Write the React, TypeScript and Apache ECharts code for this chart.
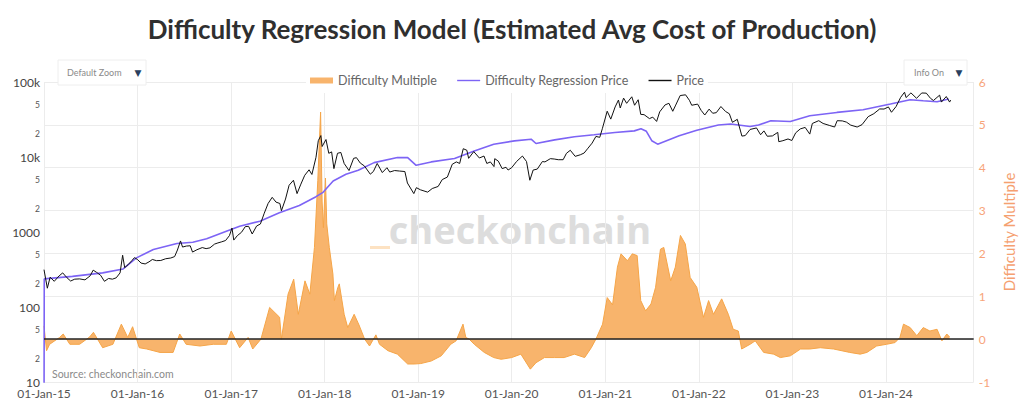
import React, { useEffect, useRef } from 'react';
import * as echarts from 'echarts';

const titleText = 'Difficulty Regression Model (Estimated Avg Cost of Production)';
const seriesNames = ['Difficulty Multiple', 'Difficulty Regression Price', 'Price'];
const leftTickValues = [10, 20, 50, 100, 200, 500, 1000, 2000, 5000, 10000, 20000, 50000, 100000];
const leftTickLabels = ['10', '2', '5', '100', '2', '5', '1000', '2', '5', '10k', '2', '5', '100k'];
const rightMin = -1;
const rightMax = 6;
const xStart = '2015-01-01';
const xEnd = '2024-12-09';
const monthNames = ['Jan', 'Feb', 'Mar', 'Apr', 'May', 'Jun', 'Jul', 'Aug', 'Sep', 'Oct', 'Nov', 'Dec'];

const price: [string, number][] = [
  ['2015-01-01', 315], ['2015-01-14', 178], ['2015-01-25', 250], ['2015-02-10', 220], ['2015-03-01', 260],
  ['2015-03-15', 285], ['2015-04-01', 245], ['2015-04-15', 222], ['2015-05-01', 235], ['2015-05-20', 237],
  ['2015-06-10', 230], ['2015-06-30', 260], ['2015-07-12', 310], ['2015-07-25', 290], ['2015-08-10', 265],
  ['2015-08-25', 220], ['2015-09-10', 240], ['2015-09-25', 235], ['2015-10-10', 245], ['2015-10-25', 285],
  ['2015-11-04', 490], ['2015-11-12', 335], ['2015-11-25', 365], ['2015-12-10', 415], ['2015-12-20', 455],
  ['2016-01-01', 430], ['2016-01-15', 385], ['2016-01-31', 375], ['2016-02-15', 400], ['2016-02-28', 430],
  ['2016-03-15', 415], ['2016-04-01', 417], ['2016-04-20', 440], ['2016-05-10', 450], ['2016-05-25', 470],
  ['2016-06-05', 575], ['2016-06-17', 760], ['2016-06-25', 630], ['2016-07-10', 650], ['2016-07-25', 655],
  ['2016-08-03', 540], ['2016-08-20', 580], ['2016-09-10', 620], ['2016-09-25', 600], ['2016-10-10', 615],
  ['2016-10-28', 690], ['2016-11-10', 715], ['2016-11-25', 740], ['2016-12-10', 770], ['2016-12-25', 895],
  ['2017-01-04', 1130], ['2017-01-11', 780], ['2017-01-25', 895], ['2017-02-10', 990], ['2017-02-25', 1180],
  ['2017-03-10', 1190], ['2017-03-24', 940], ['2017-04-10', 1200], ['2017-04-25', 1280], ['2017-05-10', 1780],
  ['2017-05-25', 2400], ['2017-06-10', 2900], ['2017-06-25', 2500], ['2017-07-10', 2400], ['2017-07-16', 1920],
  ['2017-08-01', 2750], ['2017-08-15', 4200], ['2017-09-01', 4900], ['2017-09-15', 3250], ['2017-09-30', 4350],
  ['2017-10-15', 5700], ['2017-11-01', 6750], ['2017-11-12', 5850], ['2017-11-28', 9900], ['2017-12-07', 16500],
  ['2017-12-17', 19300], ['2017-12-22', 13800], ['2018-01-06', 17100], ['2018-01-17', 11200], ['2018-01-28', 11700],
  ['2018-02-06', 7000], ['2018-02-20', 11200], ['2018-03-05', 11500], ['2018-03-18', 8200], ['2018-04-06', 6600],
  ['2018-04-24', 9600], ['2018-05-05', 9800], ['2018-05-20', 8300], ['2018-06-05', 7600], ['2018-06-28', 5900],
  ['2018-07-10', 6400], ['2018-07-25', 8200], ['2018-08-14', 6200], ['2018-09-01', 7200], ['2018-09-12', 6300],
  ['2018-10-01', 6600], ['2018-10-20', 6500], ['2018-11-10', 6400], ['2018-11-20', 4500], ['2018-12-15', 3250],
  ['2018-12-25', 3900], ['2019-01-10', 3650], ['2019-02-07', 3400], ['2019-02-25', 3800], ['2019-03-20', 4050],
  ['2019-04-05', 5000], ['2019-04-25', 5400], ['2019-05-14', 8000], ['2019-05-30', 8600], ['2019-06-12', 8200],
  ['2019-06-26', 12900], ['2019-07-10', 12300], ['2019-07-17', 9600], ['2019-08-06', 11800], ['2019-08-28', 9700],
  ['2019-09-15', 10300], ['2019-09-26', 8200], ['2019-10-10', 8600], ['2019-10-24', 7450], ['2019-10-27', 9500],
  ['2019-11-10', 8800], ['2019-11-25', 7000], ['2019-12-10', 7300], ['2019-12-18', 6700], ['2020-01-01', 7200],
  ['2020-01-20', 8700], ['2020-02-12', 10300], ['2020-02-28', 8700], ['2020-03-12', 4900], ['2020-03-25', 6700],
  ['2020-04-10', 6900], ['2020-04-30', 8700], ['2020-05-10', 8600], ['2020-05-31', 9500], ['2020-06-15', 9400],
  ['2020-07-01', 9200], ['2020-07-20', 9200], ['2020-08-02', 11200], ['2020-08-17', 12300], ['2020-09-05', 10200],
  ['2020-09-25', 10700], ['2020-10-10', 11300], ['2020-10-25', 13100], ['2020-11-10', 15300], ['2020-11-25', 18800],
  ['2020-12-10', 18300], ['2020-12-20', 23800], ['2021-01-08', 40800], ['2021-01-22', 32000], ['2021-02-08', 46500],
  ['2021-02-21', 57500], ['2021-02-28', 45000], ['2021-03-13', 61000], ['2021-03-25', 52000], ['2021-04-14', 63500],
  ['2021-04-25', 49000], ['2021-05-09', 58000], ['2021-05-19', 37000], ['2021-06-01', 36700], ['2021-06-22', 32500],
  ['2021-07-05', 34000], ['2021-07-20', 29800], ['2021-08-01', 40000], ['2021-08-22', 49500], ['2021-09-06', 52000],
  ['2021-09-21', 40700], ['2021-10-01', 48000], ['2021-10-20', 66000], ['2021-11-10', 67500], ['2021-11-25', 57000],
  ['2021-12-04', 49000], ['2021-12-27', 50700], ['2022-01-10', 41800], ['2022-01-24', 36300], ['2022-02-10', 43500],
  ['2022-02-24', 38300], ['2022-03-10', 39000], ['2022-03-28', 47100], ['2022-04-15', 40500], ['2022-04-30', 37700],
  ['2022-05-12', 29000], ['2022-05-31', 31800], ['2022-06-18', 19000], ['2022-07-01', 19300], ['2022-07-20', 23300],
  ['2022-08-14', 24400], ['2022-08-30', 19800], ['2022-09-12', 22300], ['2022-09-25', 18900], ['2022-10-15', 19100],
  ['2022-11-05', 21300], ['2022-11-09', 16000], ['2022-11-25', 16500], ['2022-12-15', 17400], ['2022-12-30', 16600],
  ['2023-01-14', 21000], ['2023-02-01', 23700], ['2023-02-20', 24800], ['2023-03-10', 20200], ['2023-03-20', 28000],
  ['2023-04-14', 30500], ['2023-05-01', 28000], ['2023-05-25', 26400], ['2023-06-15', 25100], ['2023-06-25', 30500],
  ['2023-07-15', 30300], ['2023-07-31', 29200], ['2023-08-17', 26600], ['2023-09-11', 25100], ['2023-09-30', 27000],
  ['2023-10-24', 34500], ['2023-11-15', 37800], ['2023-12-08', 43700], ['2023-12-25', 43600], ['2024-01-11', 46500],
  ['2024-01-23', 39500], ['2024-02-10', 47100], ['2024-02-28', 62500], ['2024-03-14', 73100], ['2024-03-20', 62000],
  ['2024-04-08', 71600], ['2024-04-30', 60600], ['2024-05-20', 71400], ['2024-06-07', 71000], ['2024-06-24', 60300],
  ['2024-07-05', 56700], ['2024-07-29', 66800], ['2024-08-05', 54000], ['2024-08-24', 64000], ['2024-09-06', 54000],
  ['2024-09-10', 57500],
];

const regression: [string, number][] = [
  ['2015-01-01', 3], ['2015-01-02', 237], ['2015-04-22', 256], ['2015-08-18', 285], ['2015-11-06', 322],
  ['2015-12-28', 452], ['2016-03-03', 583], ['2016-06-03', 701], ['2016-08-04', 730], ['2016-09-27', 811],
  ['2016-12-13', 1025], ['2017-02-03', 1196], ['2017-04-23', 1395], ['2017-07-08', 1806], ['2017-09-24', 2261],
  ['2017-11-28', 2958], ['2017-12-24', 3345], ['2018-02-03', 4782], ['2018-03-25', 5876], ['2018-05-12', 6650],
  ['2018-07-13', 8417], ['2018-10-12', 9820], ['2018-11-21', 9820], ['2018-12-24', 7740], ['2019-02-21', 8600],
  ['2019-05-23', 9530], ['2019-08-08', 12050], ['2019-10-23', 14820], ['2020-01-12', 16400], ['2020-03-17', 17270],
  ['2020-04-05', 15130], ['2020-06-17', 16900], ['2020-09-02', 18600], ['2020-11-18', 19800], ['2021-02-07', 21200],
  ['2021-04-24', 22300], ['2021-05-20', 23800], ['2021-06-10', 22000], ['2021-07-01', 16500], ['2021-07-24', 14820],
  ['2021-10-16', 19150], ['2021-12-24', 22800], ['2022-03-18', 26700], ['2022-05-05', 27500], ['2022-07-20', 25500],
  ['2022-08-22', 26700], ['2022-10-09', 30400], ['2022-12-24', 29800], ['2023-03-10', 35400], ['2023-06-24', 39300],
  ['2023-10-04', 42600], ['2024-01-19', 50800], ['2024-04-05', 58000], ['2024-05-26', 56200], ['2024-07-19', 54600],
  ['2024-09-03', 59300],
];

const multiple: [string, number][] = [
  ['2015-01-01', 0.31], ['2015-01-11', -0.27], ['2015-01-23', -0.12], ['2015-03-03', 0.04], ['2015-03-17', 0.12],
  ['2015-04-12', -0.12], ['2015-05-20', -0.12], ['2015-06-28', 0.05], ['2015-07-13', 0.16], ['2015-08-18', -0.2],
  ['2015-09-27', -0.12], ['2015-10-30', 0.35], ['2015-11-24', 0.04], ['2015-12-13', 0.29], ['2016-01-08', -0.2],
  ['2016-02-06', -0.23], ['2016-03-29', -0.31], ['2016-05-19', -0.31], ['2016-06-14', 0.12], ['2016-07-09', -0.12],
  ['2016-09-01', -0.16], ['2016-10-23', -0.12], ['2016-12-13', -0.12], ['2017-01-01', 0.19], ['2017-02-03', -0.2],
  ['2017-03-08', 0.04], ['2017-03-26', -0.23], ['2017-04-27', 0], ['2017-05-31', 0.74], ['2017-07-09', 0.51],
  ['2017-07-16', 0], ['2017-08-11', 1.05], ['2017-09-02', 1.4], ['2017-09-20', 0.58], ['2017-10-16', 1.36],
  ['2017-11-04', 1.05], ['2017-11-22', 2.14], ['2017-12-05', 3.7], ['2017-12-16', 5.3], ['2017-12-22', 3.2],
  ['2017-12-27', 2.6], ['2018-01-04', 3.76], ['2018-01-09', 2.69], ['2018-01-19', 2.14], ['2018-02-02', 1.52],
  ['2018-02-08', 0.9], ['2018-02-21', 1.2], ['2018-02-27', 1.29], ['2018-03-18', 0.58], ['2018-04-01', 0.27],
  ['2018-04-26', 0.58], ['2018-05-15', 0.33], ['2018-06-06', 0], ['2018-06-25', -0.16], ['2018-07-20', 0.1],
  ['2018-08-03', -0.12], ['2018-09-05', -0.27], ['2018-10-12', -0.35], ['2018-11-21', -0.58], ['2018-12-16', -0.58],
  ['2019-01-11', -0.57], ['2019-02-21', -0.51], ['2019-04-01', -0.39], ['2019-05-08', -0.12], ['2019-05-29', -0.04],
  ['2019-06-25', 0.35], ['2019-07-06', 0.04], ['2019-07-19', 0], ['2019-08-08', -0.12], ['2019-09-16', -0.31],
  ['2019-10-23', -0.43], ['2019-11-21', -0.47], ['2020-01-01', -0.43], ['2020-02-06', -0.35], ['2020-03-14', -0.7],
  ['2020-04-05', -0.55], ['2020-05-08', -0.43], ['2020-06-17', -0.43], ['2020-07-24', -0.43], ['2020-09-02', -0.35],
  ['2020-10-12', -0.43], ['2020-11-07', -0.2], ['2020-11-25', 0], ['2020-12-21', 0.35], ['2021-01-08', 0.97],
  ['2021-01-29', 0.8], ['2021-02-17', 1.68], ['2021-03-03', 1.99], ['2021-03-28', 1.83], ['2021-04-16', 1.99],
  ['2021-05-05', 1.95], ['2021-05-19', 0.9], ['2021-06-07', 0.66], ['2021-06-28', 0.82], ['2021-07-16', 1.21],
  ['2021-08-04', 2.1], ['2021-08-17', 2.14], ['2021-09-13', 1.36], ['2021-10-01', 1.68], ['2021-10-21', 2.42],
  ['2021-11-09', 2.22], ['2021-11-28', 1.44], ['2021-12-24', 1.21], ['2022-01-19', 0.51], ['2022-02-08', 0.9],
  ['2022-02-27', 0.58], ['2022-03-31', 0.94], ['2022-04-26', 0.58], ['2022-05-15', 0.23], ['2022-06-04', 0.19],
  ['2022-06-17', -0.23], ['2022-07-20', -0.12], ['2022-08-09', -0.04], ['2022-09-11', -0.31], ['2022-10-20', -0.35],
  ['2022-11-15', -0.43], ['2022-12-24', -0.39], ['2023-02-02', -0.23], ['2023-03-10', -0.23], ['2023-04-20', -0.2],
  ['2023-06-11', -0.23], ['2023-08-13', -0.31], ['2023-09-23', -0.35], ['2023-10-19', -0.31], ['2023-11-26', -0.16],
  ['2024-01-04', -0.12], ['2024-02-06', -0.08], ['2024-02-25', 0.04], ['2024-03-10', 0.35], ['2024-04-05', 0.27],
  ['2024-05-01', 0.08], ['2024-05-26', 0.27], ['2024-06-21', 0.19], ['2024-07-19', 0.23], ['2024-08-07', -0.04],
  ['2024-08-26', 0.12], ['2024-09-06', 0.05],
];

const toPoints = (rows: [string, number][]) => rows.map(([d, v]) => [Date.parse(d), v]);

const FONT = 'Lato, "Open Sans", sans-serif';
// thin line legend icon whose bounding box spans the full 23x6 legend item
const LINE_ICON = 'path://M0,0 M0,2.3 L23,2.3 L23,3.7 L0,3.7 Z M23,6';

export default function App() {
  const ref = useRef<HTMLDivElement>(null);

  useEffect(() => {
    if (!ref.current) return;
    const chart = echarts.init(ref.current, null, { renderer: 'svg' });
    const leftPos = leftTickValues.map((v) => Math.round(Math.log10(v) * 1e6) / 1e6);

    const option: any = {
      animation: false,
      useUTC: true,
      backgroundColor: '#ffffff',
      title: {
        text: titleText,
        left: 'center',
        top: 11,
        textStyle: { fontSize: 26, fontWeight: 'bold', color: '#2f2f2f', fontFamily: FONT },
      },
      legend: {
        top: 68,
        left: 306,
        itemWidth: 23,
        itemHeight: 6,
        itemGap: 20,
        padding: [6, 4],
        backgroundColor: '#ffffff',
        data: [
          { name: seriesNames[0], icon: 'rect' },
          { name: seriesNames[1], icon: LINE_ICON },
          { name: seriesNames[2], icon: LINE_ICON },
        ],
        textStyle: { color: '#666666', fontSize: 12.5, fontFamily: FONT },
      },
      grid: { left: 44, right: 49, top: 82, bottom: 21, containLabel: false },
      xAxis: {
        type: 'time',
        min: Date.parse(xStart),
        max: Date.parse(xEnd),
        splitNumber: 10,
        minInterval: 365 * 864e5,
        maxInterval: 366 * 864e5,
        axisLine: { show: false },
        axisTick: { show: false },
        splitLine: { show: true, lineStyle: { color: '#ececec', width: 1 } },
        axisLabel: {
          color: '#555555',
          fontSize: 12,
          fontFamily: FONT,
          margin: 5,
          formatter: (val: number) => {
            const d = new Date(val);
            const dd = String(d.getUTCDate()).padStart(2, '0');
            return `${dd}-${monthNames[d.getUTCMonth()]}-${String(d.getUTCFullYear()).slice(-2)}`;
          },
        },
      },
      yAxis: [
        {
          type: 'log',
          logBase: 10,
          min: leftTickValues[0],
          max: leftTickValues[leftTickValues.length - 1],
          position: 'left',
          axisLine: { show: false },
          axisTick: { show: false },
          axisLabel: { show: false },
          splitLine: { show: false },
        },
        {
          type: 'value',
          position: 'right',
          min: rightMin,
          max: rightMax,
          interval: 1,
          axisLine: { show: false },
          axisTick: { show: false },
          splitLine: { show: true, lineStyle: { color: '#ececec', width: 1 } },
          axisLabel: { color: '#f7a47a', fontSize: 12, fontFamily: FONT, margin: 5 },
          name: seriesNames[0],
          nameLocation: 'middle',
          nameRotate: 90,
          nameGap: 21,
          nameTextStyle: { color: '#f5a070', fontSize: 15, fontFamily: FONT },
        },
        {
          type: 'value',
          position: 'left',
          min: leftPos[0],
          max: leftPos[leftPos.length - 1],
          axisLine: { show: false },
          axisTick: { show: false },
          splitLine: { show: false },
          axisLabel: {
            margin: 4,
            customValues: leftPos,
            formatter: (val: number) => {
              const i = leftPos.findIndex((p) => Math.abs(p - val) < 1e-4);
              if (i < 0) return '';
              const major = Number.isInteger(leftPos[i]);
              return major ? `{a|${leftTickLabels[i]}}` : `{b|${leftTickLabels[i]}}`;
            },
            rich: {
              a: { color: '#444444', fontSize: 12, fontFamily: FONT },
              b: { color: '#555555', fontSize: 8.5, fontFamily: FONT },
            },
          },
        },
      ],
      series: [
        {
          name: seriesNames[0],
          type: 'line',
          yAxisIndex: 1,
          data: toPoints(multiple),
          symbol: 'none',
          itemStyle: { color: '#f8b46c' },
          lineStyle: { color: '#f5a548', width: 1 },
          areaStyle: { color: '#f8b46c', opacity: 1, origin: 'auto' },
          markLine: {
            silent: true,
            symbol: 'none',
            label: { show: false },
            lineStyle: { color: '#222222', width: 1.5, type: 'solid' },
            data: [{ yAxis: 0 }],
          },
          z: 2,
        },
        {
          name: seriesNames[1],
          type: 'line',
          yAxisIndex: 0,
          data: toPoints(regression),
          symbol: 'none',
          itemStyle: { color: '#7d64f5' },
          lineStyle: { color: '#7d64f5', width: 1.6 },
          z: 3,
        },
        {
          name: seriesNames[2],
          type: 'line',
          yAxisIndex: 0,
          data: toPoints(price),
          symbol: 'none',
          itemStyle: { color: '#111111' },
          lineStyle: { color: '#111111', width: 1 },
          z: 4,
        },
      ],
      graphic: [
        {
          type: 'text',
          x: 520,
          y: 229,
          z: 0,
          silent: true,
          style: { text: 'checkonchain', fill: '#dddddd', font: 'bold 38px "Open Sans", sans-serif', align: 'center', verticalAlign: 'middle' },
        },
        { type: 'rect', silent: true, shape: { x: 370, y: 246, width: 20, height: 3 }, style: { fill: '#fde2c2' } },
        {
          type: 'text',
          x: 52,
          y: 374,
          silent: true,
          style: { text: 'Source: checkonchain.com', fill: '#8a8a8a', font: '10.5px Lato, sans-serif', verticalAlign: 'middle' },
        },
        { type: 'rect', z: 10, shape: { x: 58, y: 60, width: 88, height: 25 }, style: { fill: '#ffffff', stroke: '#eeeeee', lineWidth: 1 } },
        { type: 'text', z: 11, x: 67, y: 72.5, style: { text: 'Default Zoom', fill: '#8a8a8a', font: '9px Lato, sans-serif', verticalAlign: 'middle' } },
        { type: 'text', z: 11, x: 138, y: 72.5, style: { text: '▼', fill: '#2a3f5f', font: '9px "DejaVu Sans", sans-serif', align: 'center', verticalAlign: 'middle' } },
        { type: 'rect', z: 10, shape: { x: 904, y: 60, width: 63, height: 25 }, style: { fill: '#ffffff', stroke: '#eeeeee', lineWidth: 1 } },
        { type: 'text', z: 11, x: 914, y: 72.5, style: { text: 'Info On', fill: '#8a8a8a', font: '9px Lato, sans-serif', verticalAlign: 'middle' } },
        { type: 'text', z: 11, x: 959, y: 72.5, style: { text: '▼', fill: '#2a3f5f', font: '9px "DejaVu Sans", sans-serif', align: 'center', verticalAlign: 'middle' } },
      ],
    };

    chart.setOption(option);
    return () => chart.dispose();
  }, []);

  return (
    <div
      ref={ref}
      style={{ position: 'absolute', left: 0, top: 0, width: 1024, height: 403, background: '#fff' }}
    />
  );
}
